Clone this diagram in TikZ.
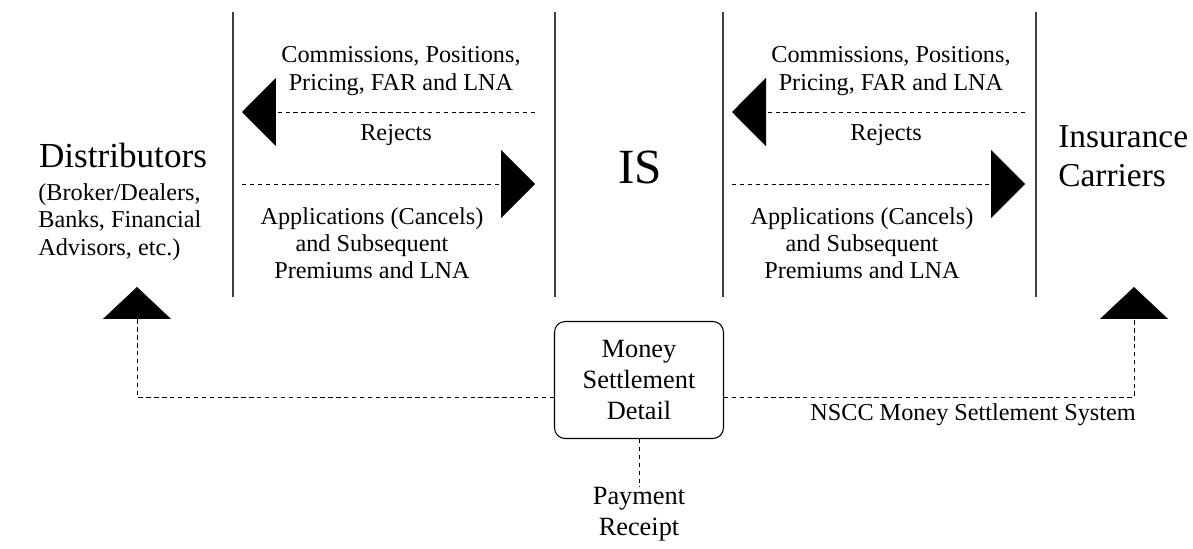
\documentclass[tikz,border=0pt]{standalone}
\usepackage{fontspec}
\setmainfont{Liberation Serif}
\usetikzlibrary{arrows.meta}
\tikzset{
  txt/.style={font=\fontsize{13.8}{15.5}\selectfont, align=center, inner sep=0pt},
  flow/.style={line width=0.5pt, dash pattern=on 2.5pt off 2pt},
  bigtip/.style={-{Triangle[length=0.68cm, width=1.36cm]}},
  uptip/.style={-{Triangle[length=0.64cm, width=1.36cm]}},
  divider/.style={line width=0.6pt, black!75},
}

\begin{document}
\begin{tikzpicture}[x=0.02cm, y=-0.02cm]
\useasboundingbox (0,0) rectangle (1193,548);

\foreach \x in {233, 555, 723, 1036} {
  \draw[divider] (\x, 12) -- (\x, 297);
}

\node[font=\fontsize{20}{24}\selectfont, inner sep=0pt] (dist) at (123, 155) {Distributors};
\node[txt, align=left, anchor=west] (distsub) at (38, 222) {(Broker/Dealers,\\Banks, Financial\\Advisors, etc.)};
\node[font=\fontsize{28}{32}\selectfont, inner sep=0pt] (is) at (640, 167) {IS};
\node[font=\fontsize{19}{22}\selectfont, align=left, anchor=west, inner sep=0pt] (carriers) at (1058, 156) {Insurance\\Carriers};

\foreach \o/\n in {0/l, 490/r} {
  \node[txt] (comm\n) at (401+\o, 71) {Commissions, Positions,\\Pricing, FAR and LNA};
  \node[txt] (rej\n) at (396+\o, 135) {Rejects};
  \node[txt] (app\n) at (372+\o, 243) {Applications (Cancels)\\and Subsequent\\Premiums and LNA};
  \coordinate (outs\n) at (535+\o, 112);
  \coordinate (outt\n) at (242+\o, 112);
  \coordinate (ins\n) at (242+\o, 184);
  \coordinate (int\n) at (535+\o, 184);
  \draw[flow, bigtip] (outs\n) -- (outt\n);
  \draw[flow, bigtip] (ins\n) -- (int\n);
}

\node[draw, rounded corners=6pt, line width=0.6pt, minimum width=3.38cm, minimum height=2.34cm, font=\fontsize{15}{17.6}\selectfont, align=center] (msd) at (639, 380) {Money\\Settlement\\Detail};
\node[font=\fontsize{15}{17.6}\selectfont, align=center, inner sep=0pt] (pay) at (639, 514) {Payment\\Receipt};
\node[txt, anchor=east] (nscc) at (1136, 415) {NSCC Money Settlement System};

\coordinate (dl) at (137, 397);
\coordinate (dtl) at (137, 287);
\coordinate (dr) at (1134, 397);
\coordinate (dtr) at (1134, 287);
\draw[flow, uptip] (msd.west |- dl) -- (dl) -- (dtl);
\draw[flow, uptip] (msd.east |- dr) -- (dr) -- (dtr);
\draw[flow] (msd.south) -- (pay.north);
\end{tikzpicture}
\end{document}
